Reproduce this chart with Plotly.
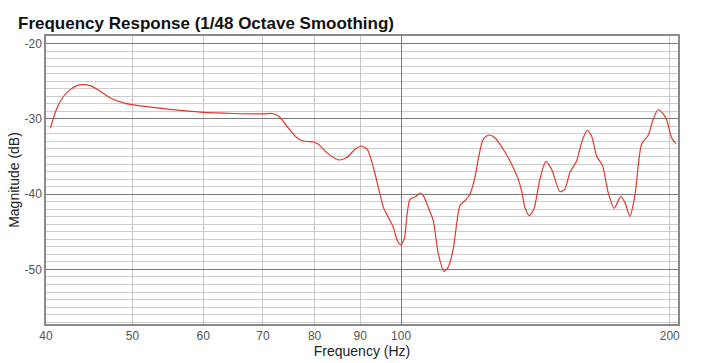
import plotly.graph_objects as go

freq_hz = [40.45, 41.15, 41.86, 42.59, 43.33, 43.89, 44.84, 46.01, 47.21, 48.86,
           50.13, 53.26, 56.55, 59.54, 64.9, 70.11, 71.64, 72.87, 74.47, 76.41,
           77.72, 79.75, 80.79, 82.56, 85.06, 86.92, 88.80, 90.35, 91.71, 93.1,
           94.3, 95.53, 96.77, 98.0, 99.02, 99.89, 100.84, 101.46, 102.33, 103.38,
           104.12, 104.99, 105.89, 107.26, 108.65, 110.06, 111.7, 112.94, 114.4, 115.41,
           116.4, 117.91, 119.44, 120.99, 122.1, 123.6, 125.44, 127.39, 130.15, 133.0,
           135.28, 136.47, 137.64, 139.17, 140.88, 143.07, 145.29, 147.45, 150.64, 152.59,
           154.58, 157.27, 158.6, 159.98, 161.64, 163.48, 165.6, 168.18, 170.63, 173.29,
           176.19, 178.15, 180.46, 182.8, 185.99, 189.19, 191.64, 194.14, 198.02, 200.94,
           203.18]
magnitude_db = [-31.27, -28.55, -27.0, -26.12, -25.59, -25.46, -25.59, -26.34, -27.23, -27.89,
                -28.15, -28.55, -28.89, -29.11, -29.29, -29.34, -29.29, -29.64, -30.96, -32.51,
                -32.95, -33.08, -33.38, -34.49, -35.46, -35.15, -34.04, -33.61, -34.13, -36.47,
                -39.11, -41.76, -43.08, -44.4, -46.16, -46.72, -45.93, -43.08, -40.65, -40.44,
                -40.21, -39.85, -40.21, -41.76, -43.51, -47.91, -50.25, -49.68, -47.25, -43.95,
                -41.53, -40.87, -40.01, -37.79, -35.19, -32.72, -32.15, -32.51, -34.04, -36.02,
                -38.01, -39.55, -41.76, -42.85, -41.97, -38.01, -35.68, -36.68, -39.68, -39.33,
                -37.13, -35.59, -34.04, -32.51, -31.56, -32.29, -34.93, -36.25, -39.78, -41.89,
                -40.34, -41.1, -42.95, -40.21, -33.38, -32.19, -30.08, -28.76, -29.87, -32.51,
                -33.3]

x_ticks = [40, 50, 60, 70, 80, 90, 100, 200]
x_major = [100]
y_ticks = [-20, -30, -40, -50]

title_text = "Frequency Response (1/48 Octave Smoothing)"
x_title = "Frequency (Hz)"
y_title = "Magnitude (dB)"

FONT = "Liberation Sans, Arial, sans-serif"
x_range = [1.60206, 2.3103]
y_range = [-57.25, -19.0]

fig = go.Figure()
fig.add_trace(go.Scatter(
    x=freq_hz, y=magnitude_db, mode="lines",
    line=dict(color="#e2392c", width=1.2, shape="spline", smoothing=0.7),
    hoverinfo="skip", showlegend=False,
))
# invisible trace to activate the overlay axis carrying the dark 100 Hz line
fig.add_trace(go.Scatter(x=[x_major[0]], y=[y_range[0]], xaxis="x2", mode="lines",
                         line=dict(width=0), showlegend=False, hoverinfo="skip"))

fig.update_layout(
    width=711, height=363,
    margin=dict(l=46, r=33, t=36, b=39, autoexpand=False),
    paper_bgcolor="white", plot_bgcolor="white",
    font=dict(family=FONT, color="#444"),
    title=dict(text="<b>" + title_text + "</b>", x=18 / 711, xanchor="left",
               xref="container", y=1 - 23 / 363, yref="container", yanchor="middle",
               font=dict(size=17, color="#111", family=FONT)),
    xaxis=dict(type="log", range=x_range, tickvals=x_ticks,
               ticktext=[str(v) for v in x_ticks], automargin=False,
               showgrid=True, gridcolor="#c8c8c8", gridwidth=1,
               showline=True, linecolor="#8a8a8a", linewidth=1.5, mirror=True,
               ticks="", tickfont=dict(size=12, color="#555"),
               title=dict(text=x_title, font=dict(size=14, color="#222"), standoff=4),
               zeroline=False, layer="below traces"),
    xaxis2=dict(type="log", range=x_range, overlaying="x", tickvals=x_major,
                showticklabels=False, showgrid=True, gridcolor="#7a7a7a", gridwidth=1,
                automargin=False,
                showline=False, ticks="", zeroline=False, layer="below traces"),
    yaxis=dict(range=y_range, tickvals=y_ticks, ticktext=[str(v) for v in y_ticks],
               automargin=False,
               showgrid=True, gridcolor="#7a7a7a", gridwidth=1,
               minor=dict(dtick=1, tick0=0, showgrid=True, gridcolor="#cdcdcd", gridwidth=1),
               showline=True, linecolor="#8a8a8a", linewidth=1.5, mirror=True,
               ticks="", tickfont=dict(size=12, color="#555"),
               title=dict(text=y_title, font=dict(size=14, color="#222"), standoff=2),
               zeroline=False),
)

fig.write_html("out.html", config={"displayModeBar": False},
               post_script="document.body.style.margin='0';document.body.style.padding='0';")
